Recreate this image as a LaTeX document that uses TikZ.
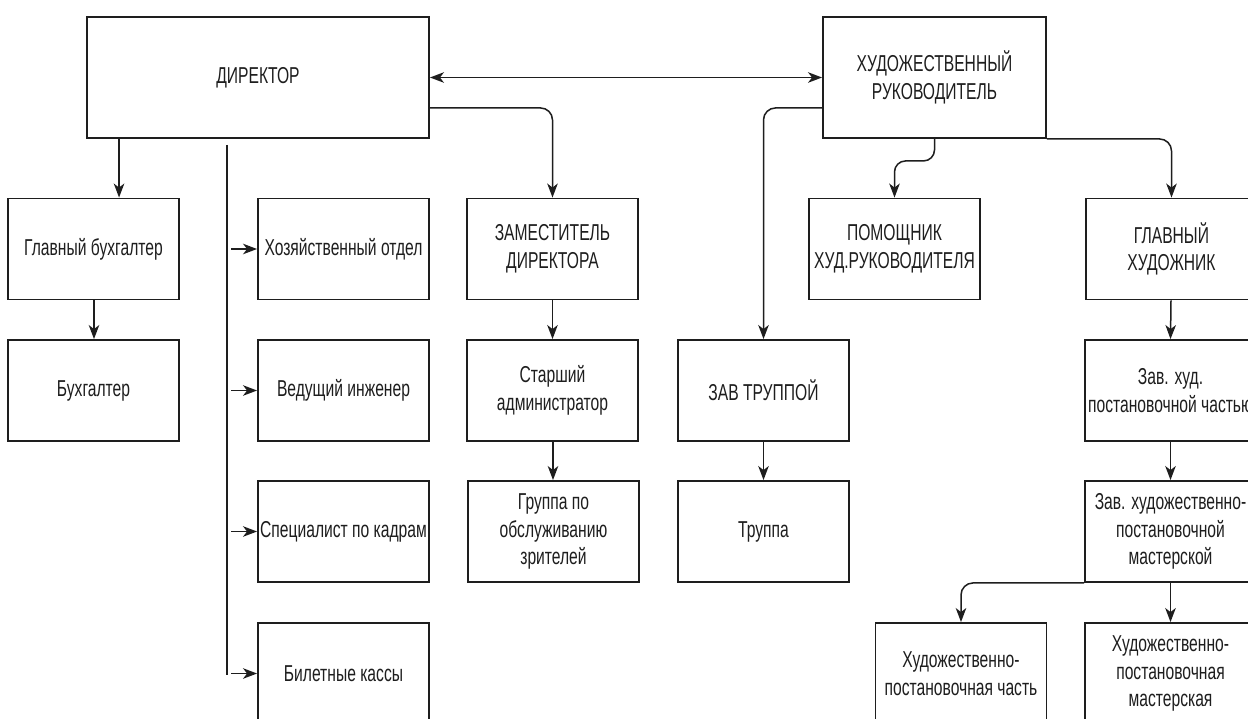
\documentclass[tikz,border=0pt]{standalone}
\usepackage{fontspec}
\setmainfont[FakeStretch=0.68]{Liberation Sans}
\usetikzlibrary{arrows.meta,calc}
\definecolor{ink}{HTML}{1E1E1E}
\tikzset{
  box/.style={draw=ink, line width=1.9pt, fill=white, minimum width=171pt,
    minimum height=101pt, inner sep=0pt, align=center, text=ink,
    font=\fontsize{23}{27.5}\selectfont},
  tip/.tip={Stealth[length=14pt,width=10.5pt,inset=4pt]},
  link/.style={draw=ink, line width=1.5pt, -tip},
  both/.style={draw=ink, line width=1.5pt, tip-tip},
  plain/.style={draw=ink, line width=1.5pt},
}
\begin{document}
\begin{tikzpicture}[x=1pt,y=-1pt]
\useasboundingbox[fill=white] (0,0) rectangle (1248,718);

% top level
\node[box, minimum width=342pt, minimum height=121pt] (dir) at (258,77.5) {ДИРЕКТОР};
\node[box, minimum width=223pt, minimum height=121pt] (hud) at (934.5,77.5) {ХУДОЖЕСТВЕННЫЙ\\РУКОВОДИТЕЛЬ};

% accounting column
\node[box] (glbuh) at (93.5,249) {Главный бухгалтер};
\node[box] (buh) at (93.5,390.5) {Бухгалтер};

% departments on the trunk line
\node[box] (hoz) at (343.5,249) {Хозяйственный отдел};
\node[box] (ved) at (343.5,390.5) {Ведущий инженер};
\node[box] (spec) at (343.5,531.5) {Специалист по кадрам};
\node[box] (kass) at (343.5,673.5) {Билетные кассы};

% deputy branch
\node[box] (zam) at (552.5,249) {ЗАМЕСТИТЕЛЬ\\ДИРЕКТОРА};
\node[box] (star) at (552.5,390.5) {Старший\\администратор};
\node[box] (grup) at (553.5,531.5) {Группа по\\обслуживанию\\зрителей};

% troupe branch
\node[box] (zavtr) at (763.5,390.5) {ЗАВ ТРУППОЙ};
\node[box] (trup) at (763.5,531.5) {Труппа};

% artistic branch
\node[box] (pom) at (894.5,249) {ПОМОЩНИК\\ХУД.РУКОВОДИТЕЛЯ};
\node[box] (glhud) at (1171.5,249) {ГЛАВНЫЙ\\ХУДОЖНИК};
\node[box] (zavhud) at (1170.5,390.5) {Зав. худ.\\постановочной частью};
\node[box] (zavmast) at (1170.5,531.5) {Зав. художественно-\\постановочной\\мастерской};
\node[box] (hpchast) at (961,673.5) {Художественно-\\постановочная часть};
\node[box] (hpmast) at (1170.5,673.5) {Художественно-\\постановочная\\мастерская};

% director <-> artistic director
\draw[both] (dir.east) -- (hud.west);

% director -> chief accountant -> accountant
\coordinate (d1) at ($(dir.south west)+(33,0)$);
\draw[link] (d1) -- (d1 |- glbuh.north);
\draw[link] ($(glbuh.south)+(0.5,0)$) -- ($(buh.north)+(0.5,0)$);

% trunk line with its branches
\coordinate (t0) at ($(dir.south west)+(141,6)$);
\coordinate (t1) at (t0 |- kass.center);
\draw[plain] (t0) -- ($(t1)+(0,1.5)$);
\foreach \n in {hoz,ved,spec,kass}
  \draw[link] ($(t0 |- \n.west)+(4,0)$) -- (\n.west);

% director -> deputy
\coordinate (d2) at ($(dir.south east)+(0,-31)$);
\draw[link, rounded corners=12pt] (d2) -| (zam.north);
\draw[link] (zam.south) -- (star.north);
\draw[link] ($(star.south)+(0.5,0)$) -- ($(grup.north)+(-0.5,0)$);

% artistic director -> troupe head -> troupe
\coordinate (h1) at ($(hud.south west)+(0,-31)$);
\draw[link, rounded corners=12pt] (h1) -| (zavtr.north);
\draw[link] (zavtr.south) -- (trup.north);

% artistic director -> assistant
\draw[link, rounded corners=11pt] (hud.south) -- ++(0,22) -| (pom.north);

% artistic director -> chief artist chain
\draw[link, rounded corners=12pt] (hud.south east) -| (glhud.north);
\draw[link] ($(glhud.south)+(-0.5,0)$) -- (zavhud.north);
\draw[link] (zavhud.south) -- (zavmast.north);
\draw[link] (zavmast.south) -- (hpmast.north);
\draw[link, rounded corners=12pt] (zavmast.south west) -| (hpchast.north);
\end{tikzpicture}
\end{document}
